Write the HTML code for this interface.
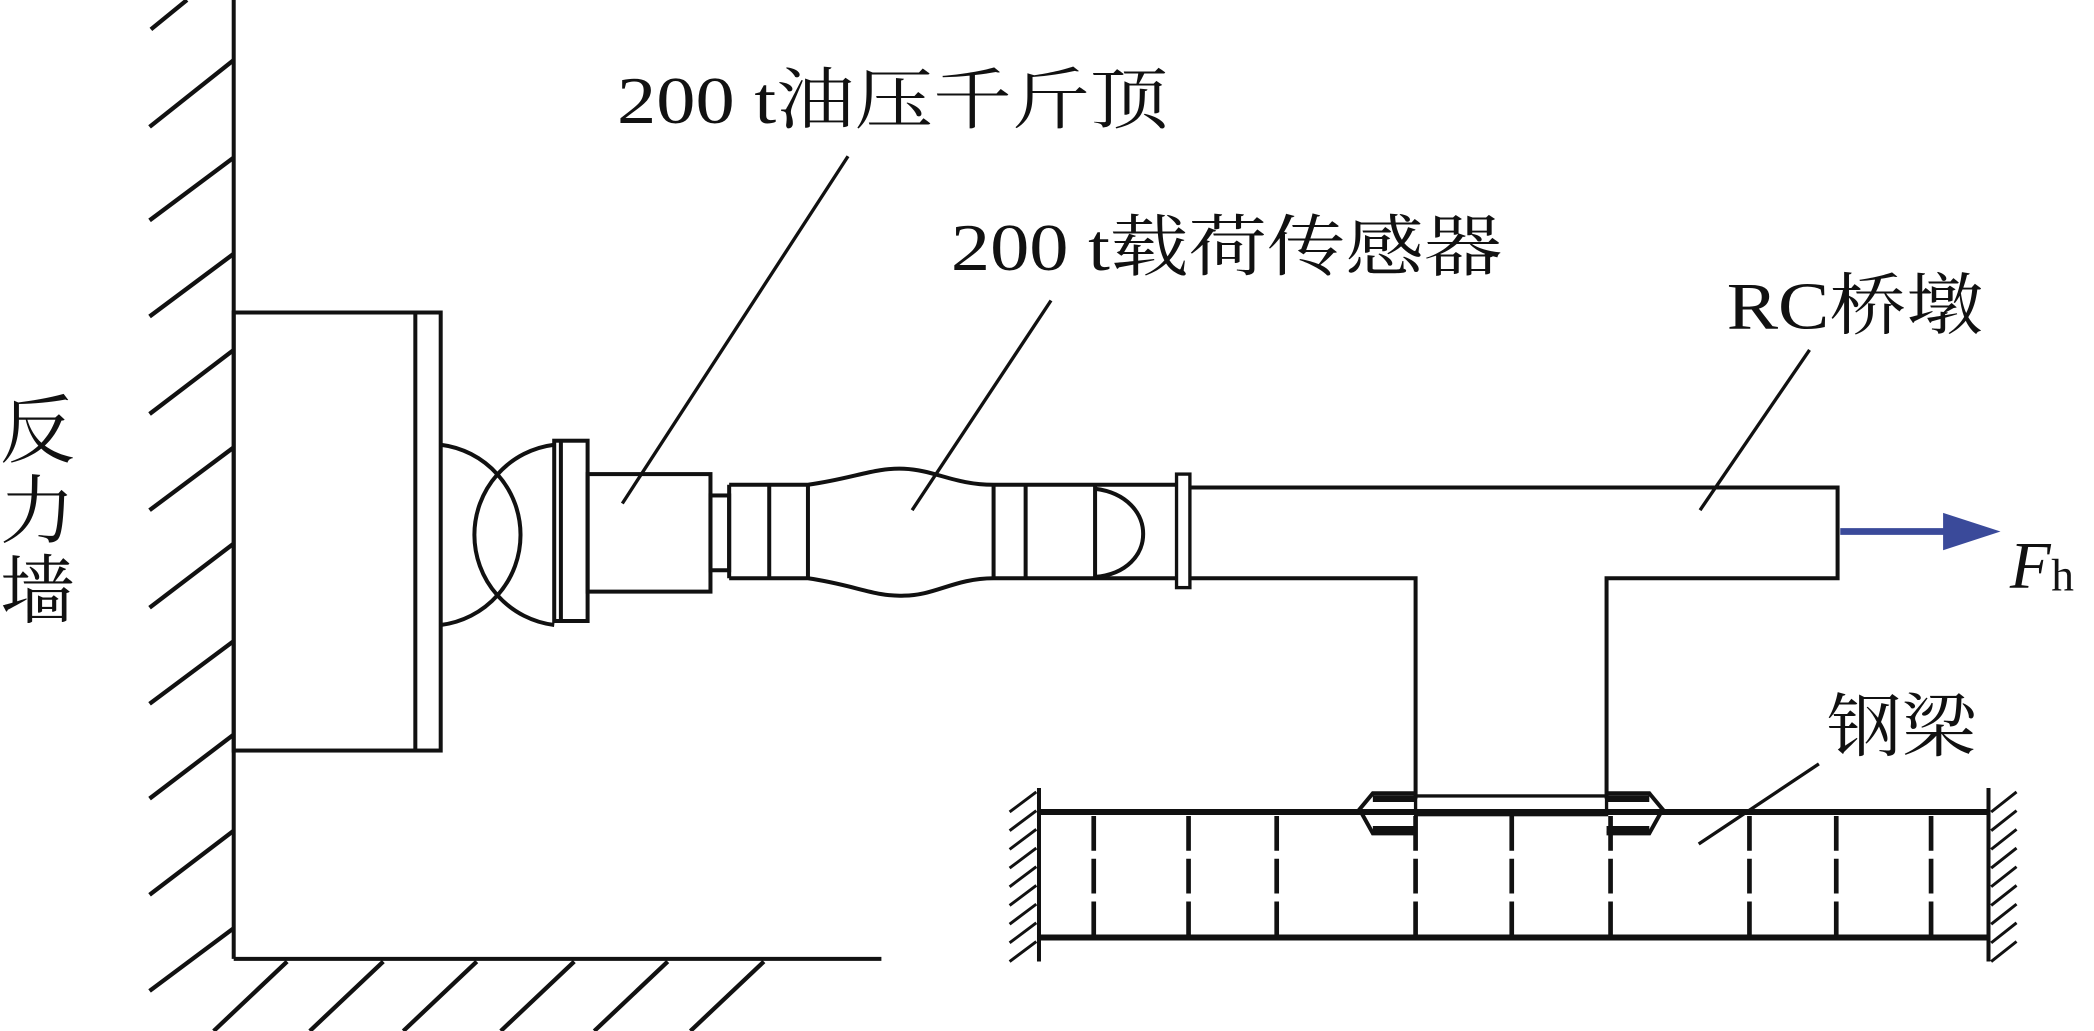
<!DOCTYPE html>
<html><head><meta charset="utf-8"><style>
html,body{margin:0;padding:0;background:#fff;}
svg{display:block;}
text{font-family:"Liberation Serif","Noto Serif CJK SC",serif;fill:#111;}
</style></head><body>
<svg width="2094" height="1031" viewBox="0 0 1568 772" preserveAspectRatio="none" xmlns="http://www.w3.org/2000/svg">
<g stroke="#111" stroke-width="3" fill="none">
<line x1="175" y1="0" x2="175" y2="718"/>
<line x1="175" y1="718" x2="660" y2="718"/>
<g stroke-width="3.2">
<line x1="113" y1="22" x2="140" y2="0"/>
<line x1="112" y1="95" x2="175" y2="45"/>
<line x1="112" y1="165" x2="175" y2="118"/>
<line x1="112" y1="237" x2="175" y2="190"/>
<line x1="112" y1="310" x2="175" y2="262"/>
<line x1="112" y1="382" x2="175" y2="335"/>
<line x1="112" y1="455" x2="175" y2="407"/>
<line x1="112" y1="527" x2="175" y2="480"/>
<line x1="112" y1="598" x2="175" y2="550"/>
<line x1="112" y1="670" x2="175" y2="622"/>
<line x1="112" y1="742" x2="175" y2="695"/>
<line x1="160" y1="772" x2="215" y2="720"/>
<line x1="232" y1="772" x2="287" y2="720"/>
<line x1="302" y1="772" x2="357" y2="720"/>
<line x1="375" y1="772" x2="430" y2="720"/>
<line x1="445" y1="772" x2="500" y2="720"/>
<line x1="517" y1="772" x2="572" y2="720"/>
</g>
<rect x="175" y="234" width="155" height="328"/>
<line x1="311" y1="234" x2="311" y2="562"/>
<path d="M330 333 A68 68 0 0 1 330 468"/>
<path d="M415 333 A68 68 0 0 0 415 468"/>
<rect x="415" y="330" width="25" height="135"/>
<line x1="420" y1="330" x2="420" y2="465"/>
<rect x="440" y="355" width="92" height="88"/>
<rect x="532" y="371" width="14" height="56"/>
<path d="M546 363 H605 C640 358 655 350 677 351 C700 352 715 363 744 363 H880 M546 433 H605 C640 438 655 447 677 446 C700 446 715 433 744 433 H880"/>
<line x1="546" y1="363" x2="546" y2="433"/>
<line x1="576" y1="363" x2="576" y2="433"/>
<line x1="605" y1="363" x2="605" y2="433"/>
<line x1="744" y1="363" x2="744" y2="433"/>
<line x1="768" y1="363" x2="768" y2="433"/>
<line x1="820" y1="363" x2="820" y2="433"/>
<path d="M820 366 C868 372 868 428 820 432"/>
<rect x="881" y="355" width="10" height="85" stroke-width="2.5"/>
<path d="M891 365 H1376 V433 H1203 V598 M891 433 H1060 V598"/>
<line x1="778" y1="608" x2="1489" y2="608" stroke-width="4.5"/>
<line x1="778" y1="702" x2="1489" y2="702" stroke-width="4.5"/>
<line x1="778" y1="590" x2="778" y2="720"/>
<line x1="1489" y1="590" x2="1489" y2="720"/>
<g stroke-width="2.2">
<line x1="756" y1="608" x2="776" y2="593"/><line x1="756" y1="622" x2="776" y2="607"/>
<line x1="756" y1="636" x2="776" y2="621"/><line x1="756" y1="650" x2="776" y2="635"/>
<line x1="756" y1="664" x2="776" y2="649"/><line x1="756" y1="678" x2="776" y2="663"/>
<line x1="756" y1="692" x2="776" y2="677"/><line x1="756" y1="706" x2="776" y2="691"/>
<line x1="756" y1="720" x2="776" y2="705"/>
<line x1="1491" y1="608" x2="1510" y2="593"/><line x1="1491" y1="622" x2="1510" y2="607"/>
<line x1="1491" y1="636" x2="1510" y2="621"/><line x1="1491" y1="650" x2="1510" y2="635"/>
<line x1="1491" y1="664" x2="1510" y2="649"/><line x1="1491" y1="678" x2="1510" y2="663"/>
<line x1="1491" y1="692" x2="1510" y2="677"/><line x1="1491" y1="706" x2="1510" y2="691"/>
<line x1="1491" y1="720" x2="1510" y2="705"/>
</g>
<g stroke-width="3.5" stroke-dasharray="26 6">
<line x1="819" y1="611" x2="819" y2="700"/>
<line x1="890" y1="611" x2="890" y2="700"/>
<line x1="956" y1="611" x2="956" y2="700"/>
<line x1="1060" y1="611" x2="1060" y2="700"/>
<line x1="1132" y1="611" x2="1132" y2="700"/>
<line x1="1206" y1="611" x2="1206" y2="700"/>
<line x1="1310" y1="611" x2="1310" y2="700"/>
<line x1="1375" y1="611" x2="1375" y2="700"/>
<line x1="1446" y1="611" x2="1446" y2="700"/>
</g>
<rect x="1060" y="596" width="143" height="14" stroke-width="2.5"/>
<path d="M1060 594 H1028 L1018 606 L1028 624 H1060" stroke-width="3"/>
<path d="M1203 594 H1235 L1245 606 L1235 624 H1203" stroke-width="3"/>
<line x1="1028" y1="598" x2="1060" y2="598" stroke-width="5"/>
<line x1="1028" y1="621" x2="1060" y2="621" stroke-width="5"/>
<line x1="1203" y1="598" x2="1235" y2="598" stroke-width="5"/>
<line x1="1203" y1="621" x2="1235" y2="621" stroke-width="5"/>
<g stroke-width="2.5">
<line x1="635" y1="117" x2="466" y2="377"/>
<line x1="787" y1="225" x2="683" y2="382"/>
<line x1="1355" y1="262" x2="1273" y2="382"/>
<line x1="1362" y1="572" x2="1272" y2="632"/>
</g>
</g>
<line x1="1378" y1="398" x2="1460" y2="398" stroke="#3a4a9a" stroke-width="5"/>
<polygon points="1455,384 1498,398 1455,412" fill="#3a4a9a"/>
<text x="1505" y="440" font-size="50" font-style="italic">F</text>
<text x="1536" y="442" font-size="34">h</text>
<text x="462" y="92" font-size="50" textLength="413" lengthAdjust="spacingAndGlyphs">200 t油压千斤顶</text>
<text x="712" y="202" font-size="50" textLength="413" lengthAdjust="spacingAndGlyphs">200 t载荷传感器</text>
<text x="1293" y="246" font-size="50" textLength="192" lengthAdjust="spacingAndGlyphs">RC桥墩</text>
<text x="1368" y="562" font-size="52" textLength="112" lengthAdjust="spacingAndGlyphs">钢梁</text>
<text x="0" y="342" font-size="56">反</text>
<text x="0" y="402" font-size="56">力</text>
<text x="0" y="462" font-size="56">墙</text>
</svg>
</body></html>
